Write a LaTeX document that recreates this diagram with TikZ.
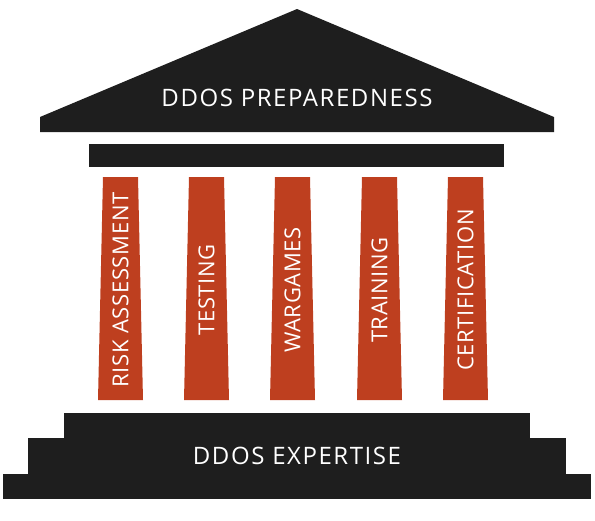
\documentclass[tikz,border=0pt]{standalone}
\usepackage{fontspec}
\setmainfont{Open Sans}
\newfontfamily\titlefont[LetterSpace=6.5]{Open Sans}
\newfontfamily\pillarfont[LetterSpace=3]{Open Sans}
\usetikzlibrary{positioning}
\definecolor{roofgray}{HTML}{1E1E1E}
\definecolor{pillarred}{HTML}{BE3F1F}

\begin{document}
\begin{tikzpicture}[x=1pt,y=-1pt,
        roof/.style={fill=roofgray},
        pillar/.style={fill=pillarred},
        title/.style={text=white,inner sep=0pt,font=\titlefont\fontsize{24}{24}\selectfont},
        pillartext/.style={text=white,inner sep=0pt,rotate=90,font=\pillarfont\fontsize{22}{22}\selectfont}]
    \useasboundingbox (0,0) rectangle (595,520);

    % roof and beam
    \fill[roof] (40,132) -- (40,117) -- (297,9) -- (554,117) -- (554,132) -- cycle;
    \fill[roof] (89,144) rectangle (504,167);
    \node[title] (top) at (297,97.5) {DDOS PREPAREDNESS};

    % pillars
    \foreach \x/\t [count=\i] in {120.5/RISK ASSESSMENT, 206.5/TESTING, 292.5/WARGAMES, 379.5/TRAINING, 465.5/CERTIFICATION}
    {
        \fill[pillar] (\x-17.5,177) -- (\x+17.5,177) -- (\x+22.5,400) -- (\x-22.5,400) -- cycle;
        \node[pillartext] (col\i) at (\x,290) {\t};
    }

    % steps
    \fill[roof] (64,413) rectangle (530,440);
    \fill[roof] (28,438) rectangle (566,476);
    \fill[roof] (3,474) rectangle (591,499);
    \node[title] (bottom) at (297,455.5) {DDOS EXPERTISE};
\end{tikzpicture}
\end{document}
